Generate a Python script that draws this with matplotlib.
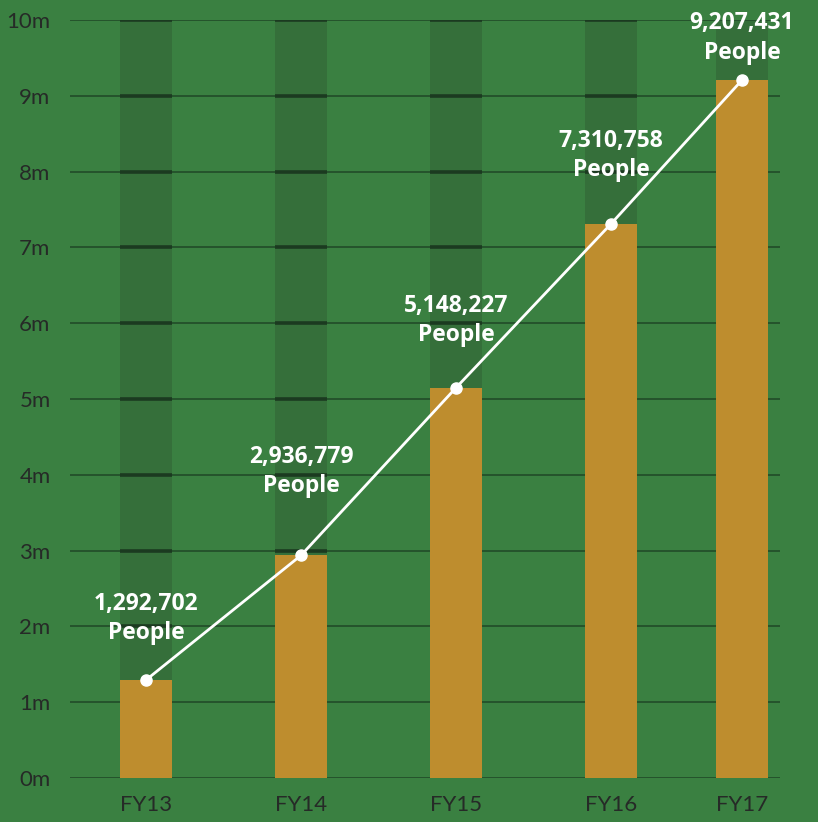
import numpy as np
import matplotlib.pyplot as plt

# data
years = ["FY13", "FY14", "FY15", "FY16", "FY17"]
x_pos = [0, 1, 2, 3, 3.845]          # FY17 column sits a bit closer in the original
people = [1292702, 2936779, 5148227, 7310758, 9207431]
label_offsets = [25, 41, 29, 30, 11]   # points above the marker for the labels

bg = "#3a8041"
dark_col = "#356f3a"
gold = "#be8d2e"
grid_col = "#23502a"
tick_col = "#262a27"

fig = plt.figure(figsize=(8.18, 8.22), dpi=100, facecolor=bg)
ax = fig.add_axes([70 / 818, 44 / 822, 710 / 818, 758 / 822])
ax.set_facecolor(bg)

vals = np.array(people) / 1e6
w = 0.335

# dark full-height columns behind the bars
ax.bar(x_pos, [10] * len(x_pos), width=w, color=dark_col, zorder=0.5)

# gridlines, darker/thicker where they cross the dark columns
for yv in range(0, 11):
    ax.axhline(yv, color=grid_col, lw=1.3, zorder=1)
    for xp in x_pos[:4]:
        ax.hlines(yv, xp - w / 2, xp + w / 2, color="#1b3a20", lw=2.6, zorder=1.1)

ax.bar(x_pos, vals, width=w, color=gold, zorder=2)
ax.plot(x_pos, vals, color="white", lw=2, marker="o", ms=8, zorder=3)

for xp, v, n, off in zip(x_pos, vals, people, label_offsets):
    ax.annotate(f"{n:,}\nPeople", (xp, v), xytext=(0, off), textcoords="offset points",
                ha="center", va="bottom", color="white", fontsize=16.5, fontweight="bold",
                family="Open Sans", linespacing=1.3, zorder=4)

ax.set_xlim(-0.49, 4.09)
ax.set_ylim(0, 10)
ax.set_yticks(range(0, 11))
ax.set_yticklabels([f"{i}m" for i in range(0, 11)])
ax.set_xticks(x_pos)
ax.set_xticklabels(years)
ax.tick_params(length=0, colors=tick_col, labelsize=16, pad=14)
ax.tick_params(axis="x", pad=12)
for lab in ax.get_xticklabels() + ax.get_yticklabels():
    lab.set_family("Lato")
for s in ax.spines.values():
    s.set_visible(False)

fig.savefig("out.png", dpi=100, facecolor=bg)
